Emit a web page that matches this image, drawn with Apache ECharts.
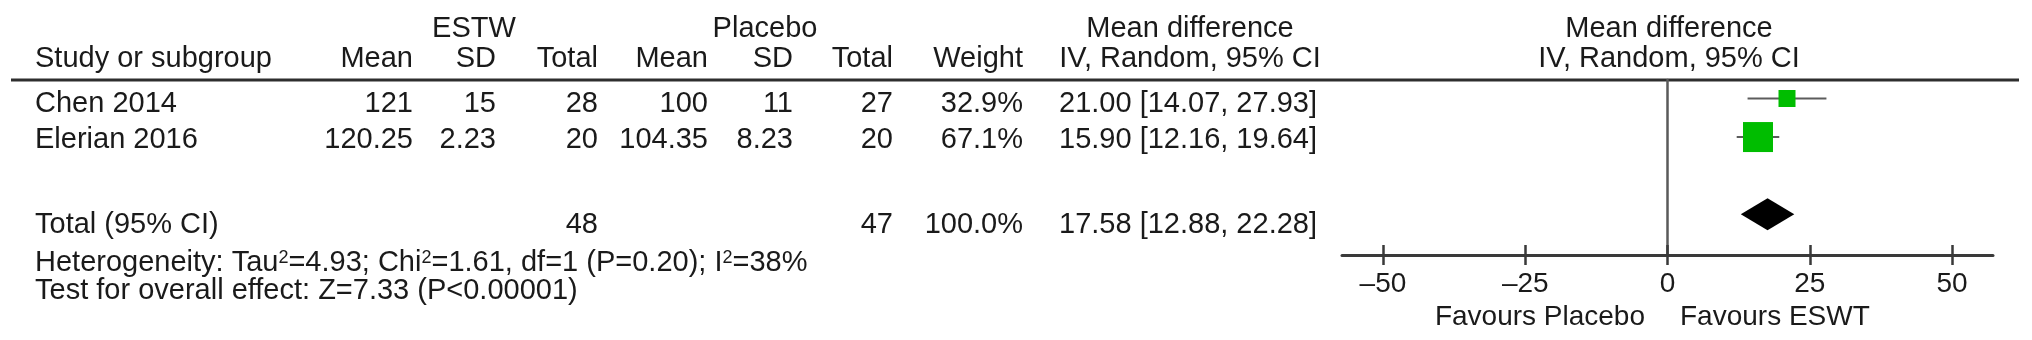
<!DOCTYPE html>
<html><head><meta charset="utf-8">
<script src="https://cdn.jsdelivr.net/npm/echarts@6/dist/echarts.min.js"></script>
<style>html,body{margin:0;padding:0;background:#fff}#c{width:2032px;height:340px}</style>
</head><body><div id="c"></div>
<script>
// ---------- DATA ----------
const studies = ['Chen 2014', 'Elerian 2016'];
const estwMean = [121, 120.25];
const estwSD = [15, 2.23];
const estwTotal = [28, 20];
const placeboMean = [100, 104.35];
const placeboSD = [11, 8.23];
const placeboTotal = [27, 20];
const weights = [32.9, 67.1];
const meanDiff = [21.00, 15.90];
const ciLower = [14.07, 12.16];
const ciUpper = [27.93, 19.64];
const pooledLabel = 'Total (95% CI)';
const pooledEstwTotal = 48;
const pooledPlaceboTotal = 47;
const pooledWeight = 100.0;
const pooledMD = 17.58;
const pooledLower = 12.88;
const pooledUpper = 22.28;
const hetTau2 = '4.93', hetChi2 = '1.61', hetDf = '1', hetP = '0.20', hetI2 = '38';
const overallZ = '7.33', overallP = '<0.00001';
const tickValues = [-50, -25, 0, 25, 50];
const groupLabels = ['ESTW', 'Placebo'];
const favoursLeft = 'Favours Placebo', favoursRight = 'Favours ESWT';

// ---------- LAYOUT / STYLE ----------
const FONT = '"Liberation Sans", Arial, Helvetica, sans-serif';
const FS = 29;
const SUP_FS = 18;
const TXT = '#1a1a1a';
const Y = { h1: 29, h2: 59, rows: [104, 140], total: 225, het: 263, test: 291, fav: 317 };
const X = { study: 35, eMean: 413, eSD: 496, eTot: 598, pMean: 708, pSD: 793, pTot: 893,
            weight: 1023, ci: 1317, ciCenter: 1190, eHead: 474, pHead: 765, plot: 1669,
            favL: 1645, favR: 1680 };
const studyRows = [0, 1];
const pooledRow = 3;

function txt(text, x, y, align, size, extra) {
  const style = Object.assign({
    text: String(text), x: 0, y: 0,
    fontSize: size || FS, fontFamily: FONT, fill: TXT,
    align: align, textAlign: align, verticalAlign: 'middle', textVerticalAlign: 'middle'
  }, extra || {});
  return { type: 'text', x: x, y: y, silent: true, style: style };
}

// text with superscripts: parts are [text, isSup]
const measureCtx = document.createElement('canvas').getContext('2d');
function supLine(parts, x, y) {
  const out = [];
  let cx = x;
  parts.forEach(([t, sup]) => {
    const fs = sup ? SUP_FS : FS;
    measureCtx.font = fs + 'px ' + FONT;
    out.push(txt(t, cx, sup ? y - 5 : y, 'left', fs));
    cx += measureCtx.measureText(t).width;
  });
  return out;
}

const g = [];
g.push({ type: 'line', shape: { x1: 11, y1: 80, x2: 2019, y2: 80 }, style: { stroke: '#2e2e2e', lineWidth: 3 }, silent: true });
g.push(txt(groupLabels[0], X.eHead, Y.h1, 'center'));
g.push(txt(groupLabels[1], X.pHead, Y.h1, 'center'));
g.push(txt('Mean difference', X.ciCenter, Y.h1, 'center'));
g.push(txt('Mean difference', X.plot, Y.h1, 'center'));
g.push(txt('Study or subgroup', X.study, Y.h2, 'left'));
g.push(txt('Mean', X.eMean, Y.h2, 'right'));
g.push(txt('SD', X.eSD, Y.h2, 'right'));
g.push(txt('Total', X.eTot, Y.h2, 'right'));
g.push(txt('Mean', X.pMean, Y.h2, 'right'));
g.push(txt('SD', X.pSD, Y.h2, 'right'));
g.push(txt('Total', X.pTot, Y.h2, 'right'));
g.push(txt('Weight', X.weight, Y.h2, 'right'));
g.push(txt('IV, Random, 95% CI', X.ciCenter, Y.h2, 'center'));
g.push(txt('IV, Random, 95% CI', X.plot, Y.h2, 'center'));

studies.forEach((s, i) => {
  const y = Y.rows[i];
  g.push(txt(s, X.study, y, 'left'));
  g.push(txt(estwMean[i], X.eMean, y, 'right'));
  g.push(txt(estwSD[i], X.eSD, y, 'right'));
  g.push(txt(estwTotal[i], X.eTot, y, 'right'));
  g.push(txt(placeboMean[i], X.pMean, y, 'right'));
  g.push(txt(placeboSD[i], X.pSD, y, 'right'));
  g.push(txt(placeboTotal[i], X.pTot, y, 'right'));
  g.push(txt(weights[i].toFixed(1) + '%', X.weight, y, 'right'));
  g.push(txt(meanDiff[i].toFixed(2) + ' [' + ciLower[i].toFixed(2) + ', ' + ciUpper[i].toFixed(2) + ']', X.ci, y, 'right'));
});
g.push(txt(pooledLabel, X.study, Y.total, 'left'));
g.push(txt(pooledEstwTotal, X.eTot, Y.total, 'right'));
g.push(txt(pooledPlaceboTotal, X.pTot, Y.total, 'right'));
g.push(txt(pooledWeight.toFixed(1) + '%', X.weight, Y.total, 'right'));
g.push(txt(pooledMD.toFixed(2) + ' [' + pooledLower.toFixed(2) + ', ' + pooledUpper.toFixed(2) + ']', X.ci, Y.total, 'right'));

supLine([
  ['Heterogeneity: Tau', false], ['2', true], ['=' + hetTau2 + '; Chi', false], ['2', true],
  ['=' + hetChi2 + ', df=' + hetDf + ' (P=' + hetP + '); I', false], ['2', true], ['=' + hetI2 + '%', false]
], X.study, Y.het).forEach(e => g.push(e));
g.push(txt('Test for overall effect: Z=' + overallZ + ' (P' + overallP + ')', X.study, Y.test, 'left'));
g.push(txt(favoursLeft, X.favL, Y.fav, 'right', 28));
g.push(txt(favoursRight, X.favR, Y.fav, 'left', 28));

const AX = '#3a3a3a';
const option = {
  animation: false,
  backgroundColor: '#ffffff',
  grid: { left: 1342, right: 39, top: 80, bottom: 85, containLabel: false },
  xAxis: [
    { type: 'value', min: -57.2, max: 57.2, position: 'bottom',
      axisLine: { show: true, onZero: false, lineStyle: { color: AX, width: 3 } },
      axisTick: { show: true, customValues: tickValues, length: 10, lineStyle: { color: AX, width: 2.5 } },
      axisLabel: { show: true, customValues: tickValues, margin: 15, fontSize: 28, fontFamily: FONT, color: TXT,
                   formatter: v => (v < 0 ? '\u2013' + Math.abs(v) : String(v)) },
      splitLine: { show: false } },
    { type: 'value', min: -57.2, max: 57.2, position: 'bottom',
      axisLine: { show: false, onZero: false },
      axisTick: { show: true, inside: true, customValues: tickValues, length: 10, lineStyle: { color: AX, width: 2.5 } },
      axisLabel: { show: false },
      splitLine: { show: false } }
  ],
  yAxis: {
    type: 'value', inverse: true, min: -0.48, max: 4.06,
    axisLine: { show: true, onZero: true, onZeroAxisIndex: 0, lineStyle: { color: '#5a5a5a', width: 2.5 } },
    axisTick: { show: false }, axisLabel: { show: false }, splitLine: { show: false }
  },
  series: [
    { type: 'custom', xAxisIndex: 0, yAxisIndex: 0, clip: false,
      data: studies.map((s, i) => [meanDiff[i], studyRows[i], ciLower[i], ciUpper[i], weights[i]]),
      renderItem: function (params, api) {
        const c = api.coord([api.value(0), api.value(1)]);
        const lo = api.coord([api.value(2), api.value(1)]);
        const hi = api.coord([api.value(3), api.value(1)]);
        const s = 4.5 + 0.38 * api.value(4);
        return { type: 'group', children: [
          { type: 'line', shape: { x1: lo[0], y1: lo[1], x2: hi[0], y2: hi[1] }, style: { stroke: '#5c5c5c', lineWidth: 2 } },
          { type: 'rect', shape: { x: c[0] - s / 2, y: c[1] - s / 2, width: s, height: s }, style: { fill: '#00bd00' } }
        ] };
      } },
    { type: 'custom', xAxisIndex: 0, yAxisIndex: 0, clip: false,
      data: [[pooledMD, pooledRow, pooledLower, pooledUpper]],
      renderItem: function (params, api) {
        const c = api.coord([api.value(0), api.value(1)]);
        const lo = api.coord([api.value(2), api.value(1)]);
        const hi = api.coord([api.value(3), api.value(1)]);
        const h = 16;
        return { type: 'polygon', shape: { points: [[lo[0], c[1]], [c[0], c[1] - h], [hi[0], c[1]], [c[0], c[1] + h]] },
                 style: { fill: '#000000' } };
      } }
  ],
  graphic: { elements: g }
};
const chart = echarts.init(document.getElementById('c'), null, { renderer: 'canvas' });
chart.setOption(option);
</script>
</body></html>
